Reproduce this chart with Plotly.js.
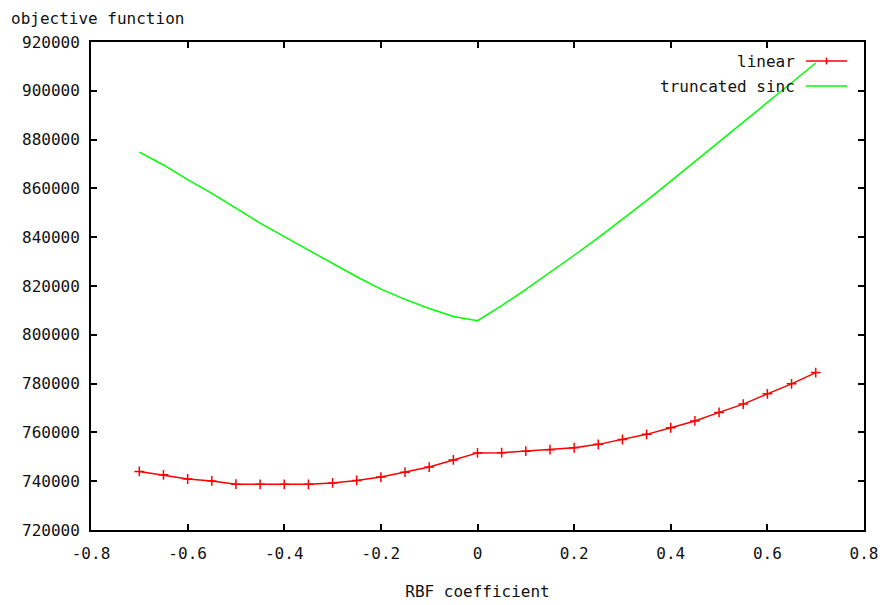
<!DOCTYPE html>
<html>
<head>
<meta charset="utf-8">
<script src="https://cdn.plot.ly/plotly-3.0.1.min.js"></script>
<style>
  html, body { margin: 0; padding: 0; background: #fff; }
  #chart { width: 888px; height: 605px; }
</style>
</head>
<body>
<div id="chart"></div>
<script>
// RBF coefficient sweep, step 0.05
const rbfCoefficient = [
  -0.70, -0.65, -0.60, -0.55, -0.50, -0.45, -0.40, -0.35, -0.30, -0.25,
  -0.20, -0.15, -0.10, -0.05, 0.00, 0.05, 0.10, 0.15, 0.20, 0.25,
  0.30, 0.35, 0.40, 0.45, 0.50, 0.55, 0.60, 0.65, 0.70
];

// objective function, linear RBF
const linearObjective = [
  744000, 742600, 740900, 740100, 738800, 738700, 738700, 738700, 739300, 740300,
  741700, 743700, 745800, 748700, 751600, 751700, 752300, 752900, 753700, 755100,
  757100, 759200, 761900, 764700, 768200, 771600, 775800, 779900, 784500
];

// objective function, truncated sinc RBF
const sincObjective = [
  874900, 869600, 863600, 858000, 851900, 845800, 840200, 834700, 829300, 823800,
  818700, 814500, 810800, 807500, 805800, 812000, 818600, 825500, 832600, 839800,
  847300, 855000, 863000, 871000, 879000, 887000, 895300, 903300, 911400
];

const xTickValues = [-0.8, -0.6, -0.4, -0.2, 0, 0.2, 0.4, 0.6, 0.8];
const xTickLabels = ['-0.8', '-0.6', '-0.4', '-0.2', '0', '0.2', '0.4', '0.6', '0.8'];
const yTickValues = [720000, 740000, 760000, 780000, 800000, 820000, 840000, 860000, 880000, 900000, 920000];
const yTickLabels = ['720000', '740000', '760000', '780000', '800000', '820000', '840000', '860000', '880000', '900000', '920000'];

const seriesNames = ['linear', 'truncated sinc'];
const seriesColors = ['#ff0000', '#00ff00'];

const FONT = 'DejaVu Sans Mono, Liberation Mono, monospace';
const TEXT_SIZE = 16;

const traces = [
  {
    x: rbfCoefficient,
    y: linearObjective,
    name: seriesNames[0],
    type: 'scatter',
    mode: 'lines+markers',
    line: { color: seriesColors[0], width: 1.5 },
    marker: { symbol: 'cross-thin', size: 7, line: { color: seriesColors[0], width: 1.5 } },
    showlegend: false
  },
  {
    x: rbfCoefficient,
    y: sincObjective,
    name: seriesNames[1],
    type: 'scatter',
    mode: 'lines',
    line: { color: seriesColors[1], width: 1.5 },
    showlegend: false
  }
];

// gnuplot-style key: label on the left, sample on the right
const keyTextX = 0.9135;
const keySampleX0 = 0.925;
const keySampleX1 = 0.978;
const keyRows = [0.961, 0.9098];

const annotations = [
  {
    text: 'objective function',
    xref: 'paper', yref: 'paper',
    x: 0, y: 1, xshift: -82, yshift: 12,
    xanchor: 'left', yanchor: 'bottom',
    showarrow: false,
    font: { family: FONT, size: TEXT_SIZE, color: '#111' }
  }
];
const shapes = [];
seriesNames.forEach((name, i) => {
  annotations.push({
    text: name,
    xref: 'paper', yref: 'paper',
    x: keyTextX, y: keyRows[i],
    xanchor: 'right', yanchor: 'middle',
    showarrow: false,
    font: { family: FONT, size: TEXT_SIZE, color: '#111' }
  });
  shapes.push({
    type: 'line', xref: 'paper', yref: 'paper',
    x0: keySampleX0, x1: keySampleX1, y0: keyRows[i], y1: keyRows[i],
    line: { color: seriesColors[i], width: 1.5 }
  });
});
// cross marker on the "linear" key sample
const keyMid = (keySampleX0 + keySampleX1) / 2;
shapes.push({
  type: 'line', xref: 'paper', yref: 'paper',
  x0: keyMid, x1: keyMid, y0: keyRows[0] - 0.007, y1: keyRows[0] + 0.007,
  line: { color: seriesColors[0], width: 1.5 }
});

const axisCommon = {
  showgrid: false,
  zeroline: false,
  showline: true,
  linecolor: '#000',
  linewidth: 2,
  mirror: 'ticks',
  ticks: 'inside',
  ticklen: 6,
  tickwidth: 2,
  tickcolor: '#000',
  tickfont: { family: FONT, size: TEXT_SIZE, color: '#111' },
  tickmode: 'array'
};

const layout = {
  width: 888,
  height: 605,
  margin: { l: 91, r: 24, t: 42, b: 75 },
  paper_bgcolor: '#fff',
  plot_bgcolor: '#fff',
  xaxis: Object.assign({}, axisCommon, {
    range: [-0.8, 0.8],
    tickvals: xTickValues,
    ticktext: xTickLabels,
    ticklabelstandoff: 8,
    title: { text: 'RBF coefficient', font: { family: FONT, size: TEXT_SIZE, color: '#111' }, standoff: 24 }
  }),
  yaxis: Object.assign({}, axisCommon, {
    range: [720000, 920000],
    tickvals: yTickValues,
    ticktext: yTickLabels,
    ticklabelstandoff: 6
  }),
  annotations: annotations,
  shapes: shapes
};

Plotly.newPlot('chart', traces, layout, { displayModeBar: false, staticPlot: true });
</script>
</body>
</html>
